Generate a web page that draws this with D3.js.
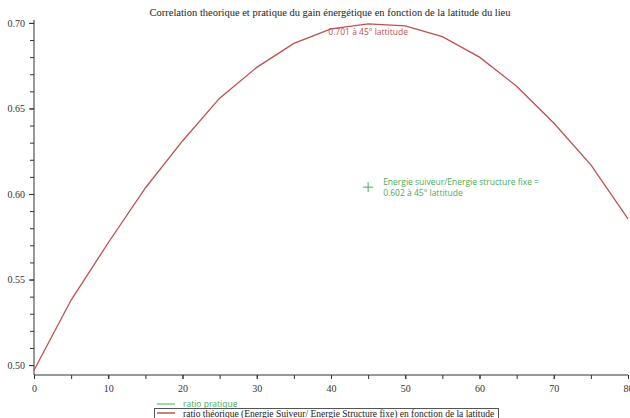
<!DOCTYPE html>
<html>
<head>
<meta charset="utf-8">
<script src="https://cdn.jsdelivr.net/npm/d3@7"></script>
<style>
  body { margin: 0; background: #fff; }
  svg { display: block; }
</style>
</head>
<body>
<div id="chart"></div>
<script>
// latitude (degrees) and theoretical ratio
const latitudes = [0, 5, 10, 15, 20, 25, 30, 35, 40, 45, 50, 55, 60, 65, 70, 75, 80];
const ratioTheorique = [0.497, 0.538, 0.5715, 0.6035, 0.631, 0.656, 0.674, 0.688, 0.6965, 0.6994, 0.6983, 0.692, 0.680, 0.663, 0.6415, 0.617, 0.5855];
// measured point
const pratiqueLat = [45];
const ratioPratique = [0.604];
const xTicks = [0, 10, 20, 30, 40, 50, 60, 70, 80];
const yTicks = [0.50, 0.55, 0.60, 0.65, 0.70];

const titleText = 'Correlation theorique et pratique du gain énergétique en fonction de la latitude du lieu';
const peakLabel = '0.701 à 45° lattitude';
const pointLabel = ['Energie suiveur/Energie structure fixe =', '0.602 à 45° lattitude'];
const legendPratique = 'ratio pratique';
const legendTheorique = 'ratio théorique (Energie Suiveur/ Energie Structure fixe) en fonction de la latitude';

const width = 630, height = 418;
const margin = { top: 20, right: 2, bottom: 43, left: 34 };
const innerW = width - margin.left - margin.right;
const innerH = height - margin.top - margin.bottom;

const red = '#c0504d';
const green = '#4aab5c';
const serif = '"Liberation Serif", "DejaVu Serif", serif';
const sans = '"Open Sans", "Liberation Sans", sans-serif';

const svg = d3.select('#chart').append('svg')
  .attr('width', width)
  .attr('height', height);

const g = svg.append('g')
  .attr('transform', `translate(${margin.left},${margin.top})`);

const x = d3.scaleLinear().domain([0, 80]).range([0, innerW]);
const y = d3.scaleLinear().domain([0.4942, 0.7017]).range([innerH, 0]);

// title
svg.append('text')
  .attr('x', 330)
  .attr('y', 16)
  .attr('text-anchor', 'middle')
  .style('font-family', serif)
  .style('font-size', '10.5px')
  .attr('fill', '#222')
  .text(titleText);

// x axis: minor ticks every 5, labels every 10
g.append('g')
  .attr('transform', `translate(0,${innerH})`)
  .call(d3.axisBottom(x).tickValues(d3.range(0, 81, 5)).tickSize(4).tickFormat(''))
  .call(a => a.select('.domain').attr('d', `M0,0H${innerW}`));
g.append('g')
  .attr('transform', `translate(0,${innerH})`)
  .call(d3.axisBottom(x).tickValues(xTicks).tickSize(4).tickPadding(6).tickFormat(d3.format('d')))
  .call(a => a.select('.domain').remove());

// y axis: minor ticks every 0.01, labels every 0.05
g.append('g')
  .call(d3.axisLeft(y).tickValues(d3.range(50, 71).map(v => v / 100)).tickSize(4).tickFormat(''))
  .call(a => a.select('.domain').attr('d', `M0,0V${innerH}`));
g.append('g')
  .call(d3.axisLeft(y).tickValues(yTicks).tickSize(5).tickPadding(4).tickFormat(d3.format('.2f')))
  .call(a => a.select('.domain').remove());

g.selectAll('.tick line').attr('stroke', '#333');
g.selectAll('.domain').attr('stroke', '#333');
g.selectAll('.tick text')
  .style('font-family', serif)
  .style('font-size', '10px')
  .attr('fill', '#333');

// theoretical curve
const theo = latitudes.map((d, i) => ({ lat: d, v: ratioTheorique[i] }));
g.append('path')
  .datum(theo)
  .attr('fill', 'none')
  .attr('stroke', red)
  .attr('stroke-width', 1.3)
  .attr('d', d3.line().x(d => x(d.lat)).y(d => y(d.v)));

g.append('text')
  .attr('x', x(45))
  .attr('y', y(0.7) + 12)
  .attr('text-anchor', 'middle')
  .style('font-family', sans)
  .style('font-size', '8.5px')
  .attr('fill', red)
  .text(peakLabel);

// practical point (plus marker)
const pts = pratiqueLat.map((d, i) => ({ lat: d, v: ratioPratique[i] }));
g.selectAll('path.cross')
  .data(pts)
  .join('path')
  .attr('class', 'cross')
  .attr('d', 'M-5,0H5M0,-5V5')
  .attr('transform', d => `translate(${x(d.lat)},${y(d.v)})`)
  .attr('fill', 'none')
  .attr('stroke', green)
  .attr('stroke-width', 1);

const lbl = g.append('text')
  .attr('x', x(pratiqueLat[0]) + 15)
  .attr('y', y(ratioPratique[0]) - 2)
  .style('font-family', sans)
  .style('font-size', '8.5px')
  .attr('fill', green);
lbl.selectAll('tspan')
  .data(pointLabel)
  .join('tspan')
  .attr('x', x(pratiqueLat[0]) + 15)
  .attr('dy', (d, i) => i === 0 ? 0 : 11)
  .text(d => d);

// legend
const legend = svg.append('g');
legend.append('line')
  .attr('x1', 157).attr('x2', 175).attr('y1', 404).attr('y2', 404)
  .attr('stroke', green).attr('stroke-width', 1);
legend.append('text')
  .attr('x', 183).attr('y', 407)
  .style('font-family', sans).style('font-size', '8.5px')
  .attr('fill', green)
  .text(legendPratique);
legend.append('rect')
  .attr('x', 154.5).attr('y', 408.5).attr('width', 344).attr('height', 14)
  .attr('fill', 'none').attr('stroke', '#555').attr('stroke-width', 1);
legend.append('line')
  .attr('x1', 157).attr('x2', 175).attr('y1', 413).attr('y2', 413)
  .attr('stroke', red).attr('stroke-width', 1.5);
legend.append('text')
  .attr('x', 183).attr('y', 417)
  .style('font-family', serif).style('font-size', '9.5px')
  .attr('fill', '#222')
  .text(legendTheorique);
</script>
</body>
</html>
